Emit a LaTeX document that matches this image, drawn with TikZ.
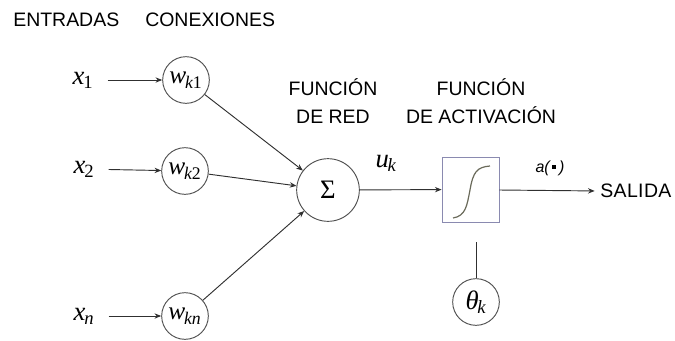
\documentclass[tikz,border=0pt]{standalone}
\usepackage{fontspec}
\setmainfont{Liberation Serif}
\setsansfont{Liberation Sans}
\usetikzlibrary{arrows.meta}
\definecolor{wire}{HTML}{303030}
\definecolor{ring}{HTML}{505050}
\definecolor{frame}{HTML}{8A8AB0}
\definecolor{curve}{HTML}{6A6A5A}
% italic symbol with a subscript, as in x_1 or w_{k1}
\newcommand{\isub}[2]{{\itshape #1}\kern-0.05em\textsubscript{#2}}
\begin{document}
\begin{tikzpicture}[x=0.75pt,y=-0.75pt,
  heading/.style={font=\sffamily\fontsize{14.6}{21}\selectfont, inner sep=0pt},
  var/.style={font=\fontsize{20}{22}\selectfont, inner sep=0pt},
  weight/.style={circle, draw=ring, line width=0.7pt, minimum size=35pt, inner sep=0pt,
                 font=\fontsize{19}{20}\selectfont},
  link/.style={draw=wire, line width=0.7pt, -{Stealth[length=5pt,width=4pt]}},
  plain/.style={draw=wire, line width=0.7pt}]
\useasboundingbox (0,0) rectangle (675,340);

% column titles
\node[heading, anchor=west] (ent) at (13,20) {ENTRADAS};
\node[heading, anchor=west] (con) at (145,20) {CONEXIONES};
\node[heading, align=center] (fred) at (333,101) {FUNCIÓN\\DE RED};
\node[heading, align=center] (fact) at (481,101) {FUNCIÓN\\DE ACTIVACIÓN};

% inputs
\node[var] (x1) at (83,80) {\isub{x}{1}};
\node[var] (x2) at (84,169) {\isub{x}{2}};
\node[var] (xn) at (84,316) {\isub{x}{\itshape n}};

% weights
\node[weight] (w1) at (186,80) {\isub{w}{\itshape k\upshape 1}};
\node[weight] (w2) at (185,171) {\isub{w}{\itshape k\upshape 2}};
\node[weight] (wn) at (185,316) {\isub{w}{\itshape kn}};

% summation and activation
\node[circle, draw=ring, line width=0.7pt, minimum size=47pt, inner sep=0pt,
      font=\fontsize{20}{22}\selectfont] (sum) at (328,190) {Σ};
\node[draw=frame, line width=0.6pt, minimum width=42.75pt, minimum height=48.75pt,
      inner sep=0pt] (act) at (470.5,189.5) {};
\draw[curve, line width=0.9pt]
  (453,218) .. controls (466,216) and (467,205) .. (470,190)
            .. controls (473,172) and (477,167) .. (490,166);

% threshold
\node[circle, draw=ring, line width=0.7pt, minimum size=35pt, inner sep=0pt,
      font=\fontsize{20}{22}\selectfont] (th) at (476,302) {\isub{θ}{\itshape k}};
\coordinate (thtop) at (476,242);

% output label
\node[heading, anchor=west] (out) at (600,191) {S\kern0.02em A\kern0.02em L\kern0.02em I\kern0.02em D\kern0.02em A};
\node[var] (uk) at (386,163) {\isub{u}{\itshape k}};
\node[font=\sffamily\itshape\fontsize{12}{14}\selectfont, inner sep=0pt] (ak) at (550,168)
  {a(\,\raisebox{0.22em}{\rule{0.25em}{0.25em}}\,)};

% connectors
\draw[link, shorten <=14pt*0.75] (x1) -- (w1);
\draw[link, shorten <=14pt*0.75] (x2) -- (w2);
\draw[link, shorten <=14pt*0.75] (xn) -- (wn);
\draw[link] (w1) -- (sum);
\draw[link] (w2) -- (sum);
\draw[link] (wn) -- (sum);
\draw[link] (sum) -- (act);
\draw[link, shorten >=4pt] (act.east |- sum) -- (out.west);
\draw[plain] (thtop) -- (th);
\end{tikzpicture}
\end{document}
